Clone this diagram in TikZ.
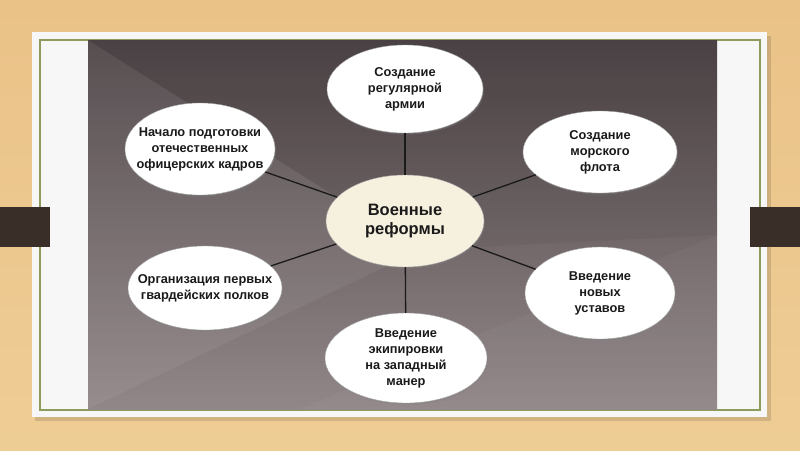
\documentclass[tikz,border=0pt]{standalone}
\usepackage{fontspec}
\setmainfont{Liberation Sans}
\usetikzlibrary{shapes.geometric,shadows}
\definecolor{wood}{HTML}{EAC288}
\definecolor{woodlo}{HTML}{EECD95}
\definecolor{card}{HTML}{F7F7F7}
\definecolor{frame}{HTML}{8D9C5C}
\definecolor{bgtop}{HTML}{4D4446}
\definecolor{bgbot}{HTML}{918688}
\definecolor{tab}{HTML}{3A2E28}
\definecolor{core}{HTML}{F6F0DE}
\definecolor{ink}{HTML}{1A1A1A}
\tikzset{
  bubble/.style={ellipse, draw=black!35, line width=0.4pt, fill=white,
    inner xsep=-14pt, inner ysep=0pt,
    align=center, text=ink, font=\fontsize{12.8}{16}\selectfont\bfseries,
    drop shadow={shadow xshift=1pt, shadow yshift=-1.5pt, opacity=0.35}},
  corebubble/.style={bubble, fill=core, font=\fontsize{16.5}{19.5}\selectfont\bfseries},
  spoke/.style={draw=ink, line width=1.3pt}
}
\begin{document}
\begin{tikzpicture}[x=1pt,y=-1pt]
\useasboundingbox (0,0) rectangle (800,450);
% wood background
\shade[top color=wood, bottom color=woodlo] (0,0) rectangle (800,450);
% card with shadow
\fill[black, opacity=0.12] (35,36) rectangle (771,421);
\fill[card] (32,32) rectangle (767,417);
\draw[frame, line width=2pt] (40,40) rectangle (760,410);
% dark panel
\shade[top color=bgtop, bottom color=bgbot] (88,40) rectangle (717,409);
\fill[white, opacity=0.06] (88,40) -- (420,250) -- (88,409) -- cycle;
\fill[white, opacity=0.03] (717,235) -- (300,409) -- (717,409) -- cycle;
\fill[black, opacity=0.04] (88,40) -- (717,40) -- (717,235) -- (420,250) -- cycle;
% tabs
\fill[tab] (0,207) rectangle (50,247);
\fill[tab] (750,207) rectangle (800,247);
% nodes
\node[corebubble, minimum width=158pt, minimum height=92pt] (c) at (405,221) {Военные\\реформы};
\node[bubble, minimum width=156pt, minimum height=88pt] (t) at (405,89) {Создание\\регулярной\\армии};
\node[bubble, minimum width=150pt, minimum height=92pt] (ul) at (200,149) {Начало подготовки\\отечественных\\офицерских кадров};
\node[bubble, minimum width=154pt, minimum height=82pt] (ur) at (600,152) {Создание\\морского\\флота};
\node[bubble, minimum width=154pt, minimum height=84pt] (ll) at (205,288) {Организация первых\\гвардейских полков};
\node[bubble, minimum width=150pt, minimum height=92pt] (lr) at (600,293) {Введение\\новых\\уставов};
\node[bubble, minimum width=162pt, minimum height=90pt] (b) at (406,358) {Введение\\экипировки\\на западный\\манер};
% spokes
\foreach \n in {t,ul,ur,ll,lr,b} \draw[spoke] (c) -- (\n);
\end{tikzpicture}
\end{document}
